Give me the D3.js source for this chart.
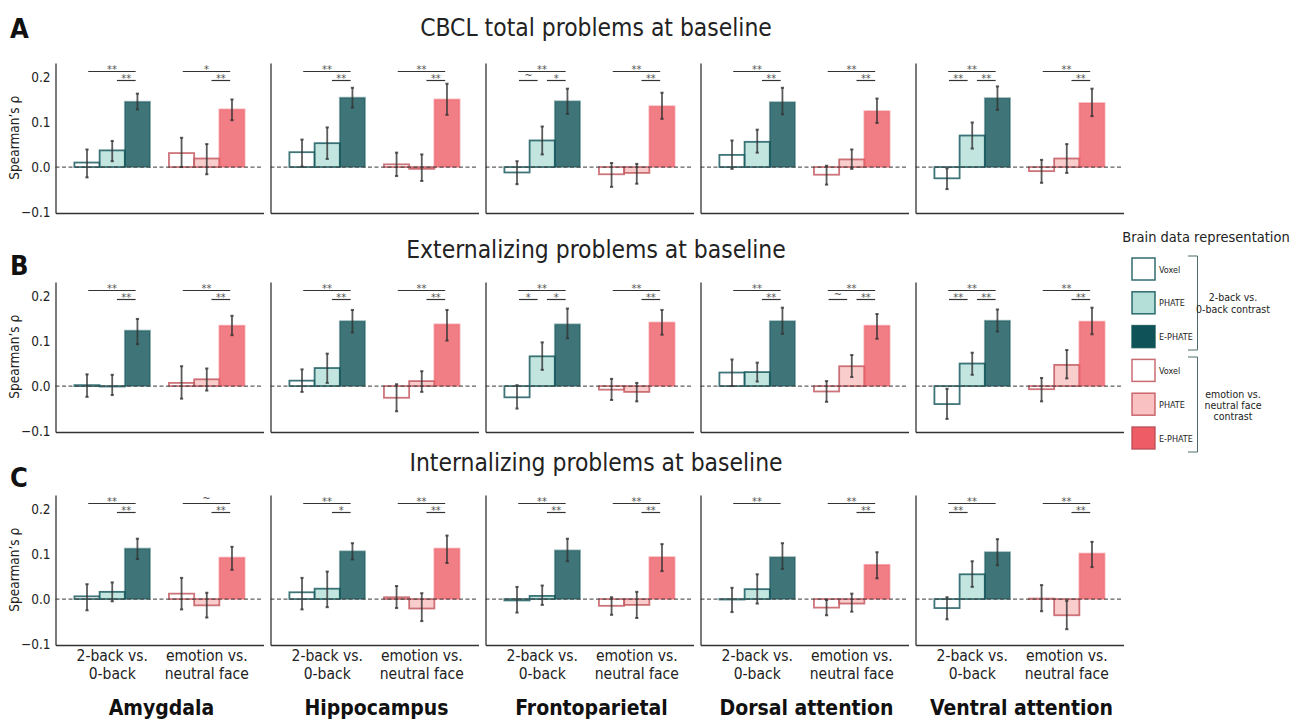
<!DOCTYPE html>
<html><head><meta charset="utf-8">
<script src="https://cdn.jsdelivr.net/npm/d3@7"></script>
<style>
body{margin:0;background:#fff;}
svg{display:block;font-family:"DejaVu Sans Condensed","DejaVu Sans",sans-serif;font-stretch:condensed;}
</style></head>
<body><svg id="chart" width="1291" height="722"></svg>
<script>
// ---------- data ----------
const regions = ["Amygdala","Hippocampus","Frontoparietal","Dorsal attention","Ventral attention"];
const contrasts = ["2-back vs. 0-back","emotion vs. neutral face"];
const contrastLines = [["2-back vs.","0-back"],["emotion vs.","neutral face"]];
const reps = ["Voxel","PHATE","E-PHATE"];
const panelLetters = ["A","B","C"];
const panelTitles = ["CBCL total problems at baseline","Externalizing problems at baseline","Internalizing problems at baseline"];
const yTicks = [-0.1, 0.0, 0.1, 0.2];

// values per region: [2-back: Voxel, PHATE, E-PHATE, emotion: Voxel, PHATE, E-PHATE]
const cbclMean = [[0.010,0.037,0.145, 0.031,0.019,0.128],[0.033,0.053,0.154, 0.006,-0.004,0.150],[-0.012,0.059,0.146, -0.016,-0.013,0.135],[0.027,0.056,0.144, -0.017,0.017,0.124],[-0.025,0.070,0.153, -0.009,0.019,0.142]];
const cbclLow  = [[-0.023,0.013,0.128, 0.000,-0.016,0.104],[0.001,0.018,0.132, -0.020,-0.031,0.116],[-0.038,0.028,0.118, -0.044,-0.037,0.107],[-0.004,0.032,0.117, -0.039,-0.004,0.098],[-0.049,0.041,0.127, -0.035,-0.013,0.113]];
const cbclHigh = [[0.039,0.058,0.163, 0.065,0.051,0.150],[0.061,0.088,0.176, 0.032,0.028,0.185],[0.013,0.090,0.174, 0.009,0.007,0.165],[0.059,0.083,0.176, 0.003,0.039,0.152],[-0.003,0.099,0.179, 0.016,0.051,0.174]];

const extMean = [[0.002,-0.001,0.123, 0.007,0.015,0.134],[0.012,0.040,0.144, -0.026,0.011,0.137],[-0.025,0.066,0.137, -0.008,-0.013,0.141],[0.030,0.031,0.144, -0.012,0.044,0.134],[-0.040,0.050,0.145, -0.007,0.047,0.143]];
const extLow  = [[-0.024,-0.020,0.093, -0.028,-0.010,0.113],[-0.013,0.007,0.119, -0.056,-0.013,0.101],[-0.050,0.036,0.106, -0.031,-0.034,0.114],[0.000,0.010,0.116, -0.035,0.020,0.105],[-0.073,0.025,0.121, -0.034,0.017,0.115]];
const extHigh = [[0.026,0.025,0.149, 0.044,0.039,0.156],[0.037,0.072,0.169, 0.004,0.033,0.169],[0.002,0.097,0.172, 0.016,0.007,0.169],[0.059,0.052,0.174, 0.011,0.069,0.160],[-0.006,0.074,0.170, 0.018,0.080,0.174]];

const intMean = [[0.006,0.016,0.112, 0.012,-0.014,0.092],[0.015,0.023,0.106, 0.004,-0.021,0.112],[-0.003,0.007,0.108, -0.015,-0.013,0.093],[-0.001,0.022,0.093, -0.019,-0.010,0.076],[-0.020,0.055,0.104, 0.001,-0.036,0.101]];
const intLow  = [[-0.025,-0.005,0.089, -0.023,-0.041,0.065],[-0.023,-0.018,0.088, -0.020,-0.049,0.080],[-0.030,-0.013,0.084, -0.035,-0.042,0.062],[-0.029,-0.010,0.067, -0.036,-0.028,0.046],[-0.045,0.027,0.075, -0.027,-0.067,0.071]];
const intHigh = [[0.033,0.037,0.134, 0.047,0.014,0.116],[0.047,0.061,0.124, 0.029,0.013,0.141],[0.027,0.030,0.134, 0.004,0.016,0.122],[0.025,0.055,0.124, -0.002,0.012,0.104],[0.004,0.084,0.133, 0.031,-0.004,0.127]];

// significance labels per panel, region, contrast
const sigLong = [
  [["**","*"],["**","**"],["**","**"],["**","**"],["**","**"]],
  [["**","**"],["**","**"],["**","**"],["**","**"],["**","**"]],
  [["**","~"],["**","**"],["**","**"],["**","**"],["**","**"]]];
const sigVoxPhate = [
  [["",""],["",""],["~",""],["",""],["**",""]],
  [["",""],["",""],["*",""],["","~"],["**",""]],
  [["",""],["",""],["",""],["",""],["**",""]]];
const sigPhateE = [
  [["**","**"],["**","**"],["*","**"],["**","**"],["**","**"]],
  [["**","**"],["**","**"],["*","**"],["**","**"],["**","**"]],
  [["**","**"],["*","**"],["**","**"],["","**"],["","**"]]];

const means = [cbclMean, extMean, intMean];
const lows = [cbclLow, extLow, intLow];
const highs = [cbclHigh, extHigh, intHigh];

// ---------- style ----------
const tealDark = "#0f5257", tealLight = "#b3dfd8";
const pinkEdge = "#c0525a", pinkLight = "#f9c1c1", pinkStrong = "#ee5d66";
const fills = [["#ffffff", tealLight, tealDark], ["#ffffff", pinkLight, pinkStrong]];
const edges = [[tealDark, tealDark, tealDark], [pinkEdge, pinkEdge, pinkStrong]];
const textCol = "#222";

const svg = d3.select("#chart");
const axX0 = 55.5, axStep = 215, axW = 208, axH = 150;
const panelTops = [63, 282, 495];
const titleY = [36, 258, 471];
const letterY = [38, 275, 487];

const x0 = d3.scaleBand().domain(contrasts).range([0, axW]).paddingInner(0.2).paddingOuter(0.2);
const x1 = d3.scaleBand().domain(reps).range([0, x0.bandwidth()]).padding(0);

panelTitles.forEach((t, p) => {
  svg.append("text").attr("x", 596).attr("y", titleY[p]).attr("text-anchor", "middle")
    .attr("font-size", 24.4).attr("fill", textCol).text(t);
  svg.append("text").attr("x", 10).attr("y", letterY[p])
    .attr("font-size", 27).attr("font-weight", "bold").attr("fill", "#111").text(panelLetters[p]);

  const top = panelTops[p];
  const y = d3.scaleLinear().domain([-0.102, 0.231]).range([top + axH, top]);

  regions.forEach((r, ri) => {
    const g = svg.append("g").attr("transform", `translate(${axX0 + ri * axStep},0)`);
    const vals = means[p][ri], lo = lows[p][ri], hi = highs[p][ri];
    const recs = [];
    contrasts.forEach((c, ci) => reps.forEach((rep, k) => {
      recs.push({c, ci, rep, k, v: vals[ci*3+k], lo: lo[ci*3+k], hi: hi[ci*3+k]});
    }));
    const cx = d => x0(d.c) + x1(d.rep) + x1.bandwidth() / 2;

    // bars
    g.selectAll("rect.bar").data(recs).join("rect").attr("class", "bar")
      .attr("x", d => x0(d.c) + x1(d.rep))
      .attr("width", x1.bandwidth())
      .attr("y", d => y(Math.max(0, d.v)))
      .attr("height", d => Math.abs(y(d.v) - y(0)))
      .attr("fill", d => fills[d.ci][d.k])
      .attr("fill-opacity", d => d.k === 0 ? 1 : 0.8)
      .attr("stroke", d => edges[d.ci][d.k])
      .attr("stroke-opacity", d => d.k === 2 ? 0.45 : 0.8)
      .attr("stroke-width", 1.8);

    // zero dashed line
    g.append("line").attr("x1", 0).attr("x2", axW).attr("y1", y(0)).attr("y2", y(0))
      .attr("stroke", "#444").attr("stroke-opacity", 0.85).attr("stroke-width", 1.3).attr("stroke-dasharray", "4,2.5");

    // error bars
    const eb = g.selectAll("g.eb").data(recs).join("g").attr("class", "eb")
      .attr("stroke", "#333").attr("stroke-opacity", 0.8);
    eb.append("line").attr("x1", cx).attr("x2", cx).attr("y1", d => y(d.lo)).attr("y2", d => y(d.hi)).attr("stroke-width", 1.8);
    eb.append("line").attr("x1", d => cx(d) - 1.6).attr("x2", d => cx(d) + 1.6).attr("y1", d => y(d.lo)).attr("y2", d => y(d.lo)).attr("stroke-width", 2);
    eb.append("line").attr("x1", d => cx(d) - 1.6).attr("x2", d => cx(d) + 1.6).attr("y1", d => y(d.hi)).attr("y2", d => y(d.hi)).attr("stroke-width", 2);

    // axes
    const ya = d3.axisLeft(y).tickValues(yTicks).tickSize(0).tickSizeOuter(0).tickPadding(5)
      .tickFormat(ri === 0 ? d3.format(".1f") : () => "");
    const yg = g.append("g").call(ya);
    yg.select(".domain").attr("stroke", "#333").attr("stroke-width", 1.3);
    yg.selectAll("text").attr("font-size", 13.5).attr("fill", textCol)
      .attr("font-family", "'DejaVu Sans Condensed','DejaVu Sans',sans-serif");
    const xa = d3.axisBottom(x0).tickSize(0).tickSizeOuter(0).tickFormat(() => "");
    const xg = g.append("g").attr("transform", `translate(0,${y(-0.102)})`).call(xa);
    xg.select(".domain").attr("stroke", "#333").attr("stroke-width", 1.3);

    if (ri === 0) {
      g.append("text").attr("transform", `translate(-37,${y(0.065)}) rotate(-90)`)
        .attr("text-anchor", "middle").attr("font-size", 13.5).attr("fill", textCol).text("Spearman\u2019s \u03c1");
    }

    // significance brackets
    const sigSets = [
      {lab: sigLong[p][ri], a: 0, b: 2, lvl: 0, da: 1.2, db: -1.8},
      {lab: sigVoxPhate[p][ri], a: 0, b: 1, lvl: 1, da: 2, db: -4.6},
      {lab: sigPhateE[p][ri], a: 1, b: 2, lvl: 1, da: 4.7, db: -1.8}
    ];
    sigSets.forEach(s => contrasts.forEach((c, ci) => {
      const label = s.lab[ci];
      if (!label) return;
      const xa1 = x0(c) + x1(reps[s.a]) + x1.bandwidth()/2 + s.da;
      const xb1 = x0(c) + x1(reps[s.b]) + x1.bandwidth()/2 + s.db;
      const ly = top + 8.5 + s.lvl * 9;
      g.append("line").attr("x1", xa1).attr("x2", xb1).attr("y1", ly).attr("y2", ly)
        .attr("stroke", "#333").attr("stroke-width", 1.2);
      g.append("text").attr("x", (xa1 + xb1)/2).attr("y", ly + (label === "~" ? -1.5 : 1.8))
        .attr("text-anchor", "middle").attr("font-size", 11).attr("fill", "#555").text(label);
    }));

    // bottom labels
    if (p === 2) {
      contrasts.forEach((c, ci) => {
        contrastLines[ci].forEach((ln, li) => {
          g.append("text").attr("x", x0(c) + x0.bandwidth()/2).attr("y", 661 + li * 17.5)
            .attr("text-anchor", "middle").attr("font-size", 15.5).attr("fill", textCol).text(ln);
        });
      });
      g.append("text").attr("x", axW/2 + 2).attr("y", 715).attr("text-anchor", "middle")
        .attr("font-size", 21).attr("font-weight", "bold").attr("fill", "#111").text(r);
    }
  });
});

// ---------- legend ----------
const lg = svg.append("g");
lg.append("text").attr("x", 1206).attr("y", 242).attr("text-anchor", "middle")
  .attr("font-size", 14.5).attr("fill", textCol).text("Brain data representation");
const legY = d3.scalePoint().domain(d3.range(6)).range([258, 427]);
const legItems = [];
contrasts.forEach((c, ci) => reps.forEach((rep, k) => legItems.push({ci, k, rep, i: ci*3 + k})));
lg.selectAll("rect").data(legItems).join("rect")
  .attr("x", 1132).attr("y", d => legY(d.i)).attr("width", 23).attr("height", 22)
  .attr("fill", d => fills[d.ci][d.k])
  .attr("stroke", d => d.ci === 0 ? tealDark : (d.k === 2 ? "#b94a52" : pinkEdge))
  .attr("stroke-opacity", 0.85).attr("stroke-width", 1.5);
lg.selectAll("text.li").data(legItems).join("text").attr("class", "li")
  .attr("x", 1159).attr("y", d => legY(d.i) + 14.5).attr("font-size", 9).attr("fill", textCol).text(d => d.rep);
const brackets = [[256, 350], [357, 452]];
brackets.forEach(([a, b]) => {
  lg.append("path").attr("d", `M1188,${a}H1197.5V${b}H1188`).attr("fill", "none")
    .attr("stroke", "#4d6a6c").attr("stroke-width", 1);
});
const legCon = [["2-back vs.","0-back contrast"],["emotion vs.","neutral face","contrast"]];
const legConY = [[301, 313], [398, 409, 420]];
legCon.forEach((lines, ci) => lines.forEach((ln, li) => {
  lg.append("text").attr("x", 1233).attr("y", legConY[ci][li]).attr("text-anchor", "middle")
    .attr("font-size", 10.5).attr("fill", textCol).text(ln);
}));
</script></body></html>
